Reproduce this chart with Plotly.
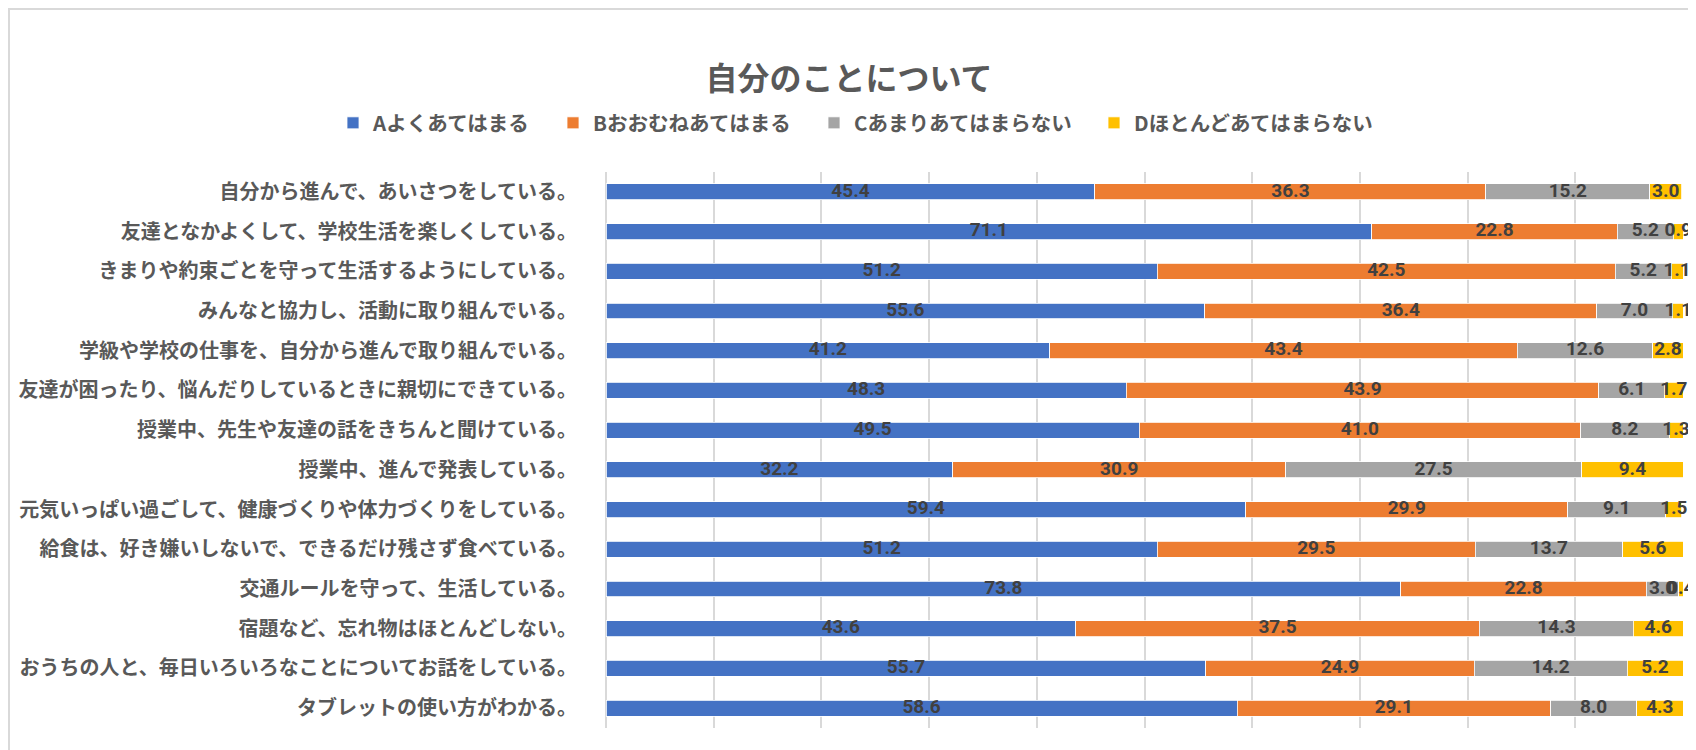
import numpy as np
import plotly.graph_objects as go

title_text = "自分のことについて"
categories = [
    "自分から進んで、あいさつをしている。",
    "友達となかよくして、学校生活を楽しくしている。",
    "きまりや約束ごとを守って生活するようにしている。",
    "みんなと協力し、活動に取り組んでいる。",
    "学級や学校の仕事を、自分から進んで取り組んでいる。",
    "友達が困ったり、悩んだりしているときに親切にできている。",
    "授業中、先生や友達の話をきちんと聞けている。",
    "授業中、進んで発表している。",
    "元気いっぱい過ごして、健康づくりや体力づくりをしている。",
    "給食は、好き嫌いしないで、できるだけ残さず食べている。",
    "交通ルールを守って、生活している。",
    "宿題など、忘れ物はほとんどしない。",
    "おうちの人と、毎日いろいろなことについてお話をしている。",
    "タブレットの使い方がわかる。",
]
series_names = ["Aよくあてはまる", "Bおおむねあてはまる", "Cあまりあてはまらない", "Dほとんどあてはまらない"]
vals_A = [45.4, 71.1, 51.2, 55.6, 41.2, 48.3, 49.5, 32.2, 59.4, 51.2, 73.8, 43.6, 55.7, 58.6]
vals_B = [36.3, 22.8, 42.5, 36.4, 43.4, 43.9, 41.0, 30.9, 29.9, 29.5, 22.8, 37.5, 24.9, 29.1]
vals_C = [15.2, 5.2, 5.2, 7.0, 12.6, 6.1, 8.2, 27.5, 9.1, 13.7, 3.0, 14.3, 14.2, 8.0]
vals_D = [3.0, 0.9, 1.1, 1.1, 2.8, 1.7, 1.3, 9.4, 1.5, 5.6, 0.4, 4.6, 5.2, 4.3]
colors = ["#4472C4", "#ED7D31", "#A5A5A5", "#FFC000"]

series = [vals_A, vals_B, vals_C, vals_D]
legend_widths = [175, 216, 235, 240]

JP = "Noto Sans CJK JP, Noto Sans, sans-serif"
fig = go.Figure()

for name, vals, col, lw in zip(series_names, series, colors, legend_widths):
    fig.add_trace(go.Bar(
        name=name, x=vals, y=categories, orientation="h",
        marker=dict(color=col, line=dict(color="white", width=0.8)),
        hoverinfo="x+name", legendwidth=lw,
    ))

base = np.zeros(len(categories))
for vals in series:
    v = np.array(vals)
    mids = base + v / 2
    fig.add_trace(go.Scatter(
        x=mids, y=categories, mode="text",
        text=[f"{x:.1f}" for x in v],
        textposition="middle center",
        textfont=dict(family="Roboto, Noto Sans, sans-serif", size=19, color="#404040", weight="bold"),
        showlegend=False, hoverinfo="skip", cliponaxis=False,
    ))
    base = base + v

# page body has an 8px margin; positions below compensate for it
L, R, T, B = 598, 21, 164, 30
PW = 1696 - L - R
PH = 750 - T - B
n = len(categories)

fig.update_layout(
    width=1696, height=750,
    barmode="stack", bargap=0.6,
    plot_bgcolor="white", paper_bgcolor="white",
    margin=dict(l=L, r=R, t=T, b=B, autoexpand=False),
    title=dict(text=title_text, x=(849 - 8) / 1696, xref="container", xanchor="center",
               y=1 - 71 / 750, yref="container", yanchor="middle",
               font=dict(family=JP, size=32, color="#595959", weight="bold")),
    legend=dict(orientation="h", xref="container", x=(373 - 40 - 8) / 1696, xanchor="left",
                yref="container", y=1 - 115 / 750, yanchor="middle", traceorder="normal",
                font=dict(family=JP, size=20.5, color="#595959", weight="bold"),
                itemclick=False),
    xaxis=dict(range=[0, 100], dtick=10, showgrid=True, gridcolor="#D9D9D9", gridwidth=1.5,
               zeroline=True, zerolinecolor="#D9D9D9", zerolinewidth=1.5, automargin=False,
               showticklabels=False, showline=False, fixedrange=True),
    yaxis=dict(range=[n - 0.5, -0.5], type="category", showgrid=False, zeroline=False,
               ticks="outside", ticklen=24, tickcolor="rgba(0,0,0,0)", automargin=False,
               tickfont=dict(family=JP, size=20, color="#595959", weight="bold"),
               showline=False, fixedrange=True),
    shapes=[dict(type="rect", xref="paper", yref="paper",
                 x0=(1 - L) / PW, x1=1.3, y0=-0.3, y1=(T + PH - 1) / PH,
                 line=dict(color="#D9D9D9", width=2), fillcolor="rgba(0,0,0,0)", layer="below")],
)

fig.write_html("out.html")
